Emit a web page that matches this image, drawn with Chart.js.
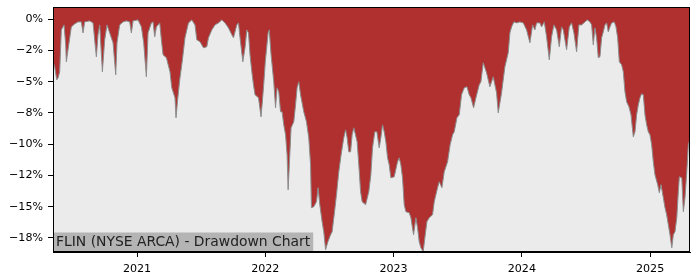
<!DOCTYPE html>
<html>
<head>
<meta charset="utf-8">
<script src="https://cdn.jsdelivr.net/npm/chart.js@4/dist/chart.umd.min.js"></script>
<style>
  html, body { margin: 0; padding: 0; background: #fff; }
  #wrap { width: 700px; height: 280px; }
</style>
</head>
<body>
<div id="wrap"><canvas id="chart" width="700" height="280"></canvas></div>
<script>
// dates as decimal years, drawdown in percent
const dates = [
  2020.345, 2020.358, 2020.374, 2020.385, 2020.397, 2020.410, 2020.431, 2020.444, 2020.449, 2020.462,
  2020.488, 2020.514, 2020.540, 2020.566, 2020.579, 2020.592, 2020.631, 2020.657, 2020.683, 2020.696,
  2020.709, 2020.730, 2020.748, 2020.766, 2020.787, 2020.813, 2020.834, 2020.844, 2020.865, 2020.891,
  2020.917, 2020.943, 2020.956, 2020.969, 2021.008, 2021.034, 2021.052, 2021.073, 2021.086, 2021.112,
  2021.125, 2021.138, 2021.151, 2021.177, 2021.190, 2021.203, 2021.229, 2021.257, 2021.271, 2021.296,
  2021.304, 2021.315, 2021.333, 2021.354, 2021.374, 2021.401, 2021.427, 2021.452, 2021.466, 2021.491,
  2021.518, 2021.544, 2021.557, 2021.583, 2021.608, 2021.635, 2021.661, 2021.686, 2021.713, 2021.739,
  2021.752, 2021.778, 2021.791, 2021.803, 2021.825, 2021.842, 2021.856, 2021.869, 2021.881, 2021.895,
  2021.908, 2021.920, 2021.947, 2021.967, 2021.986, 2022.000, 2022.022, 2022.031, 2022.045, 2022.066,
  2022.080, 2022.092, 2022.105, 2022.119, 2022.131, 2022.144, 2022.158, 2022.170, 2022.178, 2022.191,
  2022.201, 2022.222, 2022.236, 2022.248, 2022.261, 2022.275, 2022.300, 2022.321, 2022.339, 2022.353,
  2022.360, 2022.378, 2022.399, 2022.412, 2022.425, 2022.443, 2022.456, 2022.470, 2022.488, 2022.509,
  2022.521, 2022.540, 2022.555, 2022.573, 2022.591, 2022.612, 2022.626, 2022.638, 2022.651, 2022.665,
  2022.677, 2022.690, 2022.716, 2022.729, 2022.743, 2022.755, 2022.782, 2022.807, 2022.823, 2022.836,
  2022.854, 2022.870, 2022.888, 2022.901, 2022.914, 2022.927, 2022.940, 2022.953, 2022.966, 2022.979,
  2023.005, 2023.031, 2023.044, 2023.057, 2023.070, 2023.083, 2023.096, 2023.122, 2023.135, 2023.156,
  2023.174, 2023.187, 2023.200, 2023.213, 2023.231, 2023.244, 2023.260, 2023.278, 2023.304, 2023.317,
  2023.343, 2023.356, 2023.377, 2023.395, 2023.421, 2023.441, 2023.460, 2023.473, 2023.494, 2023.512,
  2023.530, 2023.551, 2023.572, 2023.590, 2023.603, 2023.624, 2023.642, 2023.668, 2023.681, 2023.699,
  2023.725, 2023.751, 2023.777, 2023.803, 2023.816, 2023.842, 2023.868, 2023.894, 2023.907, 2023.920,
  2023.938, 2023.959, 2023.985, 2024.011, 2024.037, 2024.063, 2024.084, 2024.102, 2024.115, 2024.141,
  2024.154, 2024.175, 2024.193, 2024.214, 2024.232, 2024.250, 2024.271, 2024.292, 2024.310, 2024.323,
  2024.349, 2024.370, 2024.388, 2024.406, 2024.427, 2024.445, 2024.466, 2024.492, 2024.510, 2024.531,
  2024.544, 2024.557, 2024.570, 2024.583, 2024.596, 2024.609, 2024.622, 2024.635, 2024.648, 2024.661,
  2024.674, 2024.687, 2024.700, 2024.721, 2024.734, 2024.747, 2024.760, 2024.778, 2024.791, 2024.804,
  2024.817, 2024.835, 2024.851, 2024.869, 2024.882, 2024.895, 2024.908, 2024.921, 2024.934, 2024.947,
  2024.960, 2024.973, 2024.986, 2024.999, 2025.012, 2025.025, 2025.038, 2025.059, 2025.072, 2025.085,
  2025.103, 2025.116, 2025.129, 2025.142, 2025.155, 2025.169, 2025.181, 2025.194, 2025.208, 2025.220,
  2025.228, 2025.247, 2025.259, 2025.272, 2025.286, 2025.298, 2025.311
];
const drawdown = [
  -3.41, -3.81, -4.85, -4.69, -4.21, -0.86, -0.46, -2.05, -3.41, -2.45,
  -0.62, -0.38, -0.22, -0.22, -1.10, -0.22, -0.14, -0.30, -3.01, -1.25,
  -0.46, -4.21, -1.65, -0.46, -1.10, -1.89, -4.45, -1.89, -0.46, -0.22,
  -0.14, -0.22, -1.10, -0.14, -0.06, -0.62, -1.89, -4.61, -1.10, -0.30,
  -0.22, -1.41, -0.62, -0.30, -1.65, -2.85, -3.09, -4.21, -5.49, -6.29,
  -7.89, -6.61, -4.85, -3.25, -1.49, -0.30, -0.06, -0.46, -1.65, -1.81,
  -2.29, -2.21, -1.49, -0.86, -0.46, -0.30, -0.06, -0.30, -0.70, -1.25,
  -1.49, -0.46, -0.30, -1.49, -3.41, -2.29, -0.86, -1.10, -2.85, -4.21,
  -5.25, -6.05, -6.29, -7.81, -5.49, -3.41, -1.10, -0.86, -2.85, -5.01,
  -7.09, -5.49, -5.81, -7.41, -7.41, -8.45, -9.25, -10.85, -13.64, -10.85,
  -8.69, -8.21, -6.85, -5.49, -5.01, -6.05, -7.41, -8.21, -9.49, -11.65,
  -15.08, -15.00, -14.60, -13.48, -14.84, -16.20, -17.00, -18.44, -17.80, -17.24,
  -17.00, -15.40, -14.04, -12.21, -10.85, -9.49, -8.85, -9.49, -10.61, -10.61,
  -9.25, -8.69, -9.81, -11.65, -13.80, -14.60, -14.84, -13.80, -12.45, -10.29,
  -9.01, -9.01, -10.29, -9.49, -8.45, -9.01, -9.81, -11.09, -11.65, -12.69,
  -12.61, -11.41, -11.09, -11.65, -12.69, -14.84, -15.40, -15.48, -15.88, -17.24,
  -15.88, -16.68, -17.80, -18.28, -18.60, -17.48, -16.20, -15.88, -15.64, -14.60,
  -13.48, -13.00, -13.48, -12.21, -11.41, -10.05, -9.25, -9.01, -7.89, -7.65,
  -6.05, -5.49, -5.41, -6.05, -6.29, -7.09, -6.29, -5.25, -5.01, -3.49,
  -4.29, -5.41, -4.61, -5.89, -7.49, -5.89, -3.81, -2.69, -1.10, -0.62,
  -0.22, -0.30, -0.22, -0.30, -0.86, -1.89, -0.46, -0.86, -0.30, -0.30,
  -0.62, -0.22, -1.41, -3.25, -1.41, -0.46, -0.86, -2.21, -0.62, -0.86,
  -2.45, -0.62, -0.30, -1.10, -2.61, -0.46, -0.46, -0.22, -0.06, -0.22,
  -0.46, -2.05, -0.70, -1.49, -3.09, -3.01, -1.49, -1.02, -0.46, -0.30,
  -1.02, -0.62, -0.30, -0.22, -0.62, -1.49, -3.41, -3.65, -4.21, -5.81,
  -6.61, -7.01, -7.65, -9.41, -9.01, -7.65, -6.85, -6.29, -5.97, -6.05,
  -7.65, -8.45, -9.01, -9.25, -10.05, -11.41, -12.45, -13.24, -13.88, -13.24,
  -14.28, -15.08, -15.64, -16.44, -17.24, -18.28, -17.24, -17.00, -15.88, -13.80,
  -12.61, -12.69, -15.40, -14.28, -12.21, -10.05, -9.60
];
const yearTicks = [2021, 2022, 2023, 2024, 2025];
const pctTicks = [0, -2.5, -5, -7.5, -10, -12.5, -15, -17.5];
const pctLabels = ['0%', '\u22122%', '\u22125%', '\u22128%', '\u221210%', '\u221212%', '\u221215%', '\u221218%'];
const chartTitle = 'FLIN (NYSE ARCA) - Drawdown Chart';

const points = dates.map((d, i) => ({ x: d, y: drawdown[i] }));

// grey plot background
const plotBg = {
    id: 'plotBg',
    beforeDraw(chart) {
        const { ctx, chartArea: a } = chart;
        ctx.save();
        ctx.fillStyle = '#ebebeb';
        ctx.fillRect(a.left, a.top, a.right - a.left, a.bottom - a.top);
        ctx.restore();
    }
};

// frame around the plot and the title label in the lower left
const frameAndTitle = {
    id: 'frameAndTitle',
    afterDraw(chart) {
        const { ctx, chartArea: a } = chart;
        ctx.save();
        ctx.font = '13.9px "DejaVu Sans"';
        const w = ctx.measureText(chartTitle).width;
        ctx.fillStyle = '#b4b4b4';
        ctx.fillRect(a.left, a.bottom - 19.5, w + 6, 19.5);
        ctx.fillStyle = '#222';
        ctx.textBaseline = 'middle';
        ctx.fillText(chartTitle, a.left + 3, a.bottom - 9.5);
        ctx.strokeStyle = '#000';
        ctx.lineWidth = 1;
        ctx.strokeRect(a.left + 0.5, a.top + 0.5, a.right - a.left - 1, a.bottom - a.top - 1);
        ctx.restore();
    }
};

// drop the label overflow padding so the plot box sits where we want it
const noOverflow = (s) => {
    s.paddingTop = 0;
    s.paddingBottom = 0;
    s.paddingLeft = 0;
    s.paddingRight = 0;
};

Chart.defaults.font.family = '"DejaVu Sans"';
Chart.defaults.color = '#000';

new Chart(document.getElementById('chart'), {
    type: 'line',
    data: {
        datasets: [{
            data: points,
            fill: 'end',
            backgroundColor: '#b03030',
            borderColor: '#8c8c8c',
            borderWidth: 1,
            pointRadius: 0,
            tension: 0
        }]
    },
    options: {
        responsive: false,
        animation: false,
        devicePixelRatio: 1,
        layout: { padding: { left: 0, right: 10, top: 7, bottom: 0 } },
        plugins: { legend: { display: false }, tooltip: { enabled: false } },
        scales: {
            x: {
                type: 'linear',
                min: 2020.345,
                max: 2025.311,
                afterBuildTicks: (s) => { s.ticks = yearTicks.map(v => ({ value: v })); },
                afterFit: (s) => { s.height = 28; noOverflow(s); },
                ticks: {
                    font: { size: 11.1 },
                    padding: 5,
                    maxRotation: 0,
                    callback: (v) => String(v)
                },
                grid: { drawOnChartArea: false, tickLength: 5, color: '#000' },
                border: { display: true, color: '#000' }
            },
            y: {
                min: -18.62,
                max: 0.97,
                afterBuildTicks: (s) => { s.ticks = pctTicks.map(v => ({ value: v })); },
                afterFit: (s) => { s.width = 53; noOverflow(s); },
                ticks: {
                    font: { size: 11.1 },
                    padding: 5,
                    callback: (v) => pctLabels[pctTicks.indexOf(v)]
                },
                grid: { drawOnChartArea: false, tickLength: 5, color: '#000' },
                border: { display: true, color: '#000' }
            }
        }
    },
    plugins: [plotBg, frameAndTitle]
});
</script>
</body>
</html>
